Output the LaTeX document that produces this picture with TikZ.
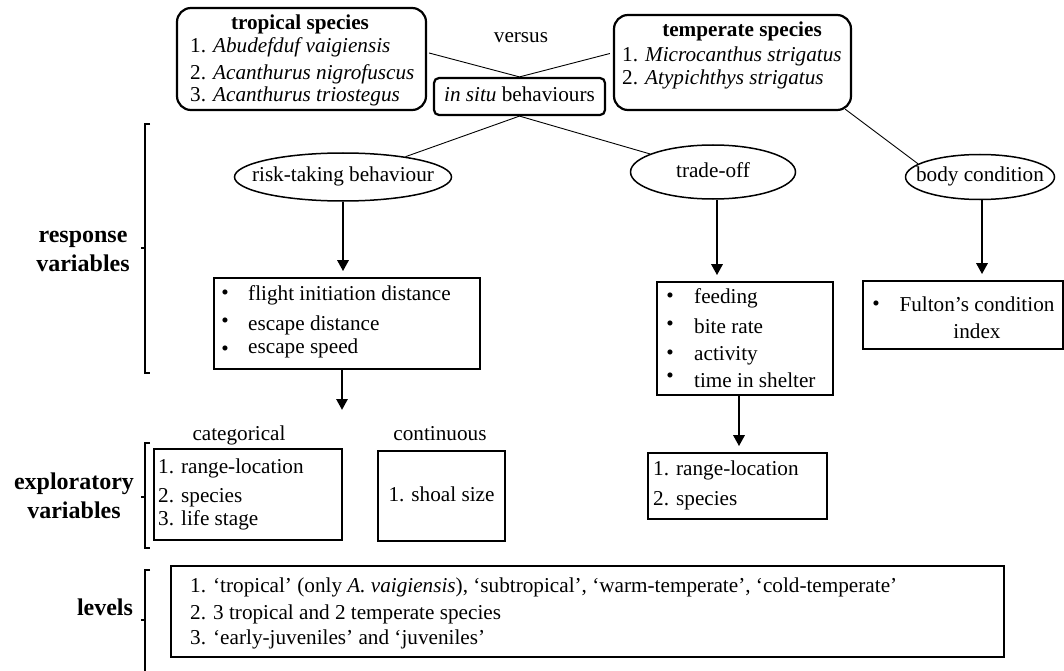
\documentclass[tikz,border=0pt]{standalone}
\usepackage{fontspec}
\setmainfont{Liberation Serif}
\usetikzlibrary{shapes.geometric,arrows.meta}
\begin{document}
\begin{tikzpicture}[x=1pt,y=-1pt,
  every node/.style={font=\fontsize{21.2}{25}\selectfont, inner sep=0pt, text height=14.5pt, text depth=4.5pt},
  rbox/.style={draw, line width=2.2pt, rounded corners=14pt},
  sbox/.style={draw, line width=1.6pt},
  oval/.style={ellipse, draw, line width=1.5pt},
  arr/.style={line width=2.8pt, -{Triangle[length=11pt,width=11pt]}, shorten >=6pt},
  link/.style={line width=0.9pt},
  brk/.style={line width=2.2pt},
  lbl/.style={font=\fontsize{24}{28}\selectfont\bfseries},
  ttl/.style={font=\fontsize{21.2}{25}\selectfont\bfseries},
  txt/.style={anchor=west}]
\useasboundingbox (0,0) rectangle (1064,671);

% top boxes
\node[rbox, minimum width=249pt, minimum height=102pt] (trop) at (301.5,59) {};
\node[ttl] (tropt) at (300,25) {tropical species};
\node[txt] (trop1) at (190,48) {1. \textit{Abudefduf vaigiensis}};
\node[txt] (trop2) at (190,75) {2. \textit{Acanthurus nigrofuscus}};
\node[txt] (trop3) at (190,97) {3. \textit{Acanthurus triostegus}};

\node (versus) at (521,38) {versus};

\node[draw, line width=2.2pt, rounded corners=5pt, minimum width=171pt, minimum height=37pt] (insitu) at (519.5,96.5) {\textit{in situ} behaviours};

\node[rbox, minimum width=237pt, minimum height=95pt] (temp) at (732.5,62.5) {};
\node[ttl] (tempt) at (742,32) {temperate species};
\node[txt] (temp1) at (622,57) {1. \textit{Microcanthus strigatus}};
\node[txt] (temp2) at (622,80) {2. \textit{Atypichthys strigatus}};

% ellipses
\node[oval, minimum width=217pt, minimum height=48pt] (risk) at (343,177) {\makebox[0pt]{risk-taking behaviour}};
\node[oval, minimum width=165pt, minimum height=54pt] (trade) at (713,172) {\makebox[0pt]{trade-off}};
\node[oval, minimum width=149pt, minimum height=45pt] (body) at (980,177) {\makebox[0pt]{body condition}};

% links
\draw[link] ([xshift=2pt,yshift=6pt]trop.east) -- (insitu.north);
\draw[link] ([xshift=-3pt,yshift=9pt]temp.west) -- (insitu.north);
\draw[link] (insitu.south) -- (risk.18);
\draw[link] (insitu.south) -- (trade.164);
\draw[link] ([xshift=-7pt,yshift=2pt]temp.south east) -- (body.168);

% response boxes
\node[sbox, minimum width=266pt, minimum height=91pt] (riskbox) at (347,323.5) {};
\node (rb1) at (225,294) {\textbullet};
\node[txt] (rt1) at (248,295) {flight initiation distance};
\node (rb2) at (225,322) {\textbullet};
\node[txt] (rt2) at (248,325) {escape distance};
\node (rb3) at (225,350) {\textbullet};
\node[txt] (rt3) at (248,348) {escape speed};

\node[sbox, minimum width=176pt, minimum height=113pt] (tradebox) at (745,338.5) {};
\node (tb1) at (670,297) {\textbullet};
\node[txt] (tt1) at (694,298) {feeding};
\node (tb2) at (670,325) {\textbullet};
\node[txt] (tt2) at (694,328) {bite rate};
\node (tb3) at (670,354) {\textbullet};
\node[txt] (tt3) at (694,355) {activity};
\node (tb4) at (670,377) {\textbullet};
\node[txt] (tt4) at (694,382) {time in shelter};

\node[sbox, minimum width=200pt, minimum height=68pt] (fulton) at (963,315) {};
\node (fb1) at (876,305) {\textbullet};
\node (ft1) at (977,306) {Fulton’s condition};
\node (ft2) at (977,333) {index};

% arrows
\draw[arr] (risk.south) -- (risk.south |- riskbox.north);
\draw[arr] ([xshift=4pt]trade.south) -- ([xshift=4pt]trade.south |- tradebox.north);
\draw[arr] ([xshift=2pt]body.south) -- ([xshift=2pt]body.south |- fulton.north);
\coordinate (riskend) at (342,416);
\draw[arr] (riskbox.south -| riskend) -- (riskend);

% exploratory
\node (catl) at (239,435) {categorical};
\node (contl) at (440,435) {continuous};
\node[sbox, minimum width=188pt, minimum height=91pt] (cat) at (248,494.5) {};
\node[txt] (c1) at (158,468) {1. range-location};
\node[txt] (c2) at (158,497) {2. species};
\node[txt] (c3) at (158,520) {3. life stage};
\node[sbox, minimum width=127pt, minimum height=90pt] (cont) at (441.5,496) {1. shoal size};

\node[sbox, minimum width=179pt, minimum height=66pt] (trade2) at (737.5,486) {};
\node[txt] (d1) at (653,470) {1. range-location};
\node[txt] (d2) at (653,500) {2. species};
\draw[arr] (tradebox.south -| 739,0) -- (trade2.north -| 739,0);

% levels
\node[sbox, minimum width=833pt, minimum height=91pt] (levels) at (587.5,611.5) {};
\node[txt] (l1) at (190,587) {1. ‘tropical’ (only \textit{A. vaigiensis}), ‘subtropical’, ‘warm-temperate’, ‘cold-temperate’};
\node[txt] (l2) at (190,614) {2. 3 tropical and 2 temperate species};
\node[txt] (l3) at (190,639) {3. ‘early-juveniles’ and ‘juveniles’};

% side labels
\node[lbl] (resp1) at (83,237) {response};
\node[lbl] (resp2) at (83,266) {variables};
\node[lbl] (expl1) at (74,484) {exploratory};
\node[lbl] (expl2) at (74,513) {variables};
\node[lbl] (lev) at (105,610) {levels};

% brackets
\draw[brk] (150,124) -- (145,124) -- (145,373) -- (150,373);
\draw[brk] (145,248) -- (141,248);
\draw[brk] (150,443) -- (145,443) -- (145,548) -- (150,548);
\draw[brk] (145,497) -- (141,497);
\draw[brk] (150,570) -- (145,570) -- (145,671);
\draw[brk] (145,620) -- (141,620);
\end{tikzpicture}
\end{document}
